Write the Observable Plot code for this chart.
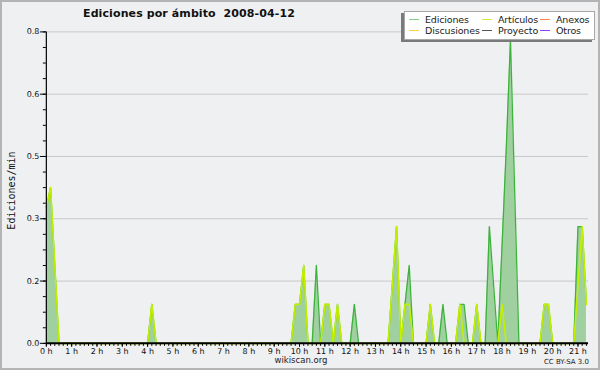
<!DOCTYPE html>
<html><head><meta charset="utf-8">
<script src="https://cdn.jsdelivr.net/npm/d3@7"></script>
<script src="https://cdn.jsdelivr.net/npm/@observablehq/plot@0.6"></script>
<style>
html,body{margin:0;padding:0;background:#eff0f2;}
#wrap{position:relative;width:600px;height:370px;box-sizing:border-box;border:2px solid #b4b4b4;background:#eff0f2;overflow:hidden;font-family:"DejaVu Sans",sans-serif;}
#chart{position:absolute;left:-2px;top:-2px;}
.title{position:absolute;left:0;width:374px;top:5px;text-align:center;font-weight:bold;font-size:11px;color:#111;white-space:pre;letter-spacing:0.1px;}
.ylab{position:absolute;left:-41px;top:183px;width:100px;text-align:center;transform:rotate(-90deg);font-family:"DejaVu Sans Mono",monospace;font-size:10px;color:#111;}
.foot{position:absolute;left:0;width:598px;top:354px;text-align:center;font-size:8.5px;line-height:9px;color:#222;}
.cc{position:absolute;right:9px;top:356px;font-size:7px;line-height:8px;color:#222;}
.legend{position:absolute;left:402px;top:9px;width:189px;height:27px;background:#fff;border:1px solid #a8a8a8;box-shadow:-3px 2px 0 #7a7a7a;font-size:9.5px;letter-spacing:-0.15px;color:#222;}
.li{position:absolute;white-space:nowrap;line-height:11px;}
.li span.sw{display:inline-block;width:10px;height:1px;vertical-align:middle;margin-right:6px;position:relative;top:-1px;}
</style></head>
<body>
<div id="wrap">
  <div id="chart"></div>
  <div class="title" id="title"></div>
  <div class="ylab" id="ylab"></div>
  <div class="foot" id="foot"></div>
  <div class="cc" id="cc"></div>
  <div class="legend" id="legend"></div>
</div>
<script>
const titleText = "Ediciones por ámbito  2008-04-12";
const yLabel = "Ediciones/min";
const footText = "wikiscan.org";
const licenseText = "CC BY-SA 3.0";

// time in minutes since 0 h
const minutes   = [0,10,20,30, 240,250,260, 580,590,600,610,620,630,640,650,660,670,680,690,700, 720,730,740,
                   810,820,830,840,850,860,870, 900,910,920,930,940,950, 970,980,990,1000,1010,1020,1030,
                   1040,1050,1060,1070,1080,1090,1100,1110,1120, 1170,1180,1190,1200, 1250,1260,1270,1280];
const ediciones = [0.35,0.4,0.2,0, 0,0.1,0, 0,0.1,0.1,0.2,0,0,0.2,0,0.1,0.1,0,0.1,0, 0,0.1,0,
                   0,0.15,0.3,0,0.1,0.2,0, 0,0.1,0,0,0.1,0, 0,0.1,0.1,0,0,0.1,0,
                   0,0.3,0.15,0,0.25,0.5,0.78,0.39,0, 0,0.1,0.1,0, 0,0.3,0.3,0.1];
const articulos = [0.35,0.4,0.2,0, 0,0.1,0, 0,0.1,0.1,0.2,0,0,0,0,0.1,0.1,0,0.1,0, 0,0,0,
                   0,0.15,0.3,0,0.1,0.1,0, 0,0.1,0,0,0,0, 0,0.1,0,0,0,0.1,0,
                   0,0,0,0,0.1,0,0,0,0, 0,0.1,0.1,0, 0,0.15,0.3,0.1];

const hourTicks = [0,60,120,180,240,300,360,420,480,540,600,660,720,780,840,900,960,1020,1080,1140,1200,1260];
const hourLabels = ["0 h","1 h","2 h","3 h","4 h","5 h","6 h","7 h","8 h","9 h","10 h","11 h","12 h","13 h","14 h","15 h","16 h","17 h","18 h","19 h","20 h","21 h"];
const yTicks = [0,0.16,0.32,0.48,0.64,0.8];
const yTickLabels = ["0.0","0.2","0.3","0.5","0.6","0.8"];

const legendNames  = ["Ediciones","Artículos","Anexos","Discusiones","Proyecto","Otros"];
const legendColors = ["#7fd07f","#c8f03c","#ff8050","#ffd040","#555555","#9040f0"];

const data = minutes.map((t,i)=>({t, ed: ediciones[i], ar: articulos[i]}));
const minorX = d3.range(0, 1290, 10);
const minorY = d3.range(0, 0.801, 0.04);

const chart = Plot.plot({
  width: 600, height: 370,
  marginLeft: 46, marginRight: 10, marginTop: 31.5, marginBottom: 26,
  style: {background: "transparent", fontFamily: "DejaVu Sans", fontSize: "8px", color: "#111"},
  x: {domain: [0, 1285], label: null},
  y: {domain: [0, 0.8], label: null},
  marks: [
    Plot.gridY(yTicks, {stroke: "#c8c8c8", strokeOpacity: 1}),
    Plot.areaY(data, {x: "t", y: "ed", fill: "#a0cfa0", fillOpacity: 1}),
    Plot.lineY(data, {x: "t", y: "ed", stroke: "#3cb43c", strokeWidth: 1.3}),
    Plot.lineY(data, {x: "t", y: "ar", stroke: "#c4f000", strokeWidth: 1.6}),
    Plot.axisX({ticks: minorX, tickSize: 3, tickFormat: () => "", label: null, stroke: "#000"}),
    Plot.axisX({ticks: hourTicks, tickSize: 4, tickPadding: 1, tickFormat: d => hourLabels[hourTicks.indexOf(d)], label: null, stroke: "#000", fill: "#111"}),
    Plot.axisY({ticks: minorY, tickSize: 3, tickFormat: () => "", label: null, stroke: "#000"}),
    Plot.axisY({ticks: yTicks, tickSize: 6, tickPadding: 1, tickFormat: d => yTickLabels[yTicks.indexOf(d)], label: null, stroke: "#000", fill: "#111"}),
    Plot.ruleX([0], {stroke: "#000", strokeWidth: 1.2}),
    Plot.ruleY([0], {stroke: "#000", strokeWidth: 2})
  ]
});
document.getElementById("chart").appendChild(chart);

document.getElementById("title").textContent = titleText;
document.getElementById("ylab").textContent = yLabel;
document.getElementById("foot").textContent = footText;
document.getElementById("cc").textContent = licenseText;

const lg = document.getElementById("legend");
const colX = [4, 77, 135];
const rowY = [2, 13];
legendNames.forEach((n,i)=>{
  const d = document.createElement("div");
  d.className = "li";
  d.style.left = colX[i%3] + "px";
  d.style.top = rowY[Math.floor(i/3)] + "px";
  const sw = document.createElement("span");
  sw.className = "sw";
  sw.style.background = legendColors[i];
  d.appendChild(sw);
  d.appendChild(document.createTextNode(n));
  lg.appendChild(d);
});
</script>
</body></html>
